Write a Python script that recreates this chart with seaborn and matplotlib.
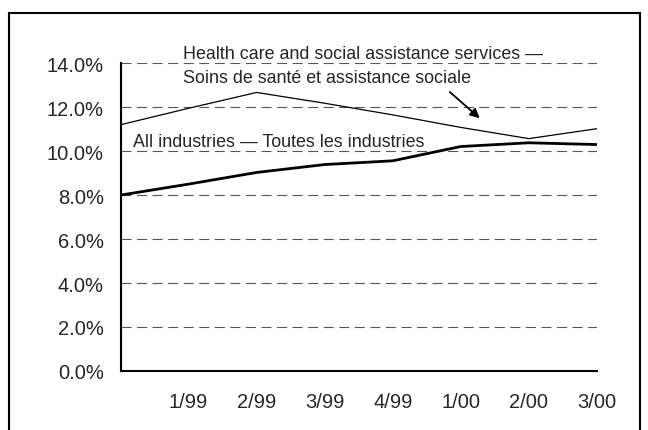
import matplotlib
matplotlib.use("Agg")
import matplotlib.pyplot as plt
from matplotlib.patches import Rectangle
import pandas as pd
import seaborn as sns

# Data (percent)
periods = ["", "1/99", "2/99", "3/99", "4/99", "1/00", "2/00", "3/00"]
health = [11.2, 11.95, 12.67, 12.18, 11.65, 11.08, 10.57, 11.02]
all_ind = [8.0, 8.5, 9.03, 9.39, 9.56, 10.21, 10.38, 10.3]
yticks = [0, 2, 4, 6, 8, 10, 12, 14]

df = pd.DataFrame({"x": range(len(periods)), "health": health, "all": all_ind})

sns.set_style("white")
plt.rcParams["font.family"] = ["Liberation Sans", "DejaVu Sans"]

fig = plt.figure(figsize=(6.48, 4.31), dpi=100)
ax = fig.add_axes([0.186, 0.137, 0.735, 0.714])

# dashed grid lines
for v in yticks[1:]:
    ax.axhline(v, color="#555555", lw=0.8, linestyle=(0, (9, 5)), zorder=1)

sns.lineplot(data=df, x="x", y="health", ax=ax, color="black", lw=0.9, zorder=3)
sns.lineplot(data=df, x="x", y="all", ax=ax, color="black", lw=2.0, zorder=3)

ax.set_xlim(0, 7)
ax.set_ylim(0, 14)
ax.set_xticks(range(1, len(periods)))
ax.set_xticklabels(periods[1:])
ax.set_yticks(yticks)
ax.set_yticklabels([f"{v:.1f}%" for v in yticks])
ax.set_xlabel("")
ax.set_ylabel("")

ax.tick_params(axis="x", direction="in", length=4.5, width=1.2, pad=15.5,
               labelsize=14.5, color="black")
ax.tick_params(axis="y", length=0, pad=12, labelsize=14.5)

for side in ["top", "right"]:
    ax.spines[side].set_visible(False)
for side in ["left", "bottom"]:
    ax.spines[side].set_color("black")
    ax.spines[side].set_linewidth(1.5)

ax.text(0.918, 14.24, "Health care and social assistance services \u2014",
        fontsize=12.9, va="baseline", ha="left")
ax.text(0.918, 13.13, "Soins de sant\u00e9 et assistance sociale",
        fontsize=12.9, va="baseline", ha="left")
ax.text(0.188, 10.25, "All industries \u2014 Toutes les industries",
        fontsize=12.9, va="baseline", ha="left")
ax.annotate("", xy=(5.28, 11.5), xytext=(4.84, 12.69),
            arrowprops=dict(arrowstyle="-|>", color="black", lw=1.3,
                            mutation_scale=14, shrinkA=0, shrinkB=0))

# outer frame
fig.patches.append(Rectangle((8.5 / 648, -0.1), 631 / 648, 1.1 - 13.5 / 431,
                             transform=fig.transFigure, fill=False,
                             edgecolor="black", lw=1.5))

fig.savefig("out.png", dpi=100)
